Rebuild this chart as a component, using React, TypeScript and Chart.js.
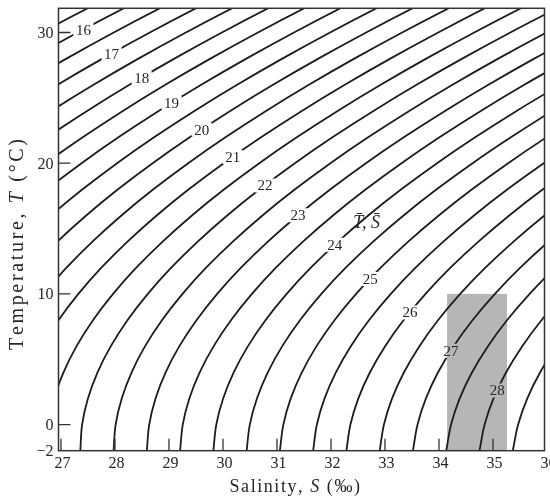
import { useEffect, useRef } from "react";
import { Chart, registerables } from "chart.js";

Chart.register(...registerables);

// Temperatures (°C) at which each σt contour's salinity is tabulated
const TEMPS = [-2, 0, 2, 4, 6, 8, 10, 12, 14, 16, 18, 20, 22, 24, 26, 28, 30, 32, 34];

// σt values of the drawn isopycnals (0.5 apart)
const SIGMA_LEVELS = [
  15.5, 16, 16.5, 17, 17.5, 18, 18.5, 19, 19.5, 20, 20.5, 21, 21.5, 22, 22.5, 23,
  23.5, 24, 24.5, 25, 25.5, 26, 26.5, 27, 27.5, 28, 28.5,
];

// σt of the first entry of each salinity row below (one row per temperature)
const FIRST_SIGMA = [
  20.5, 20.5, 20.5, 20.5, 20.5, 20, 20, 19.5, 19, 18.5, 18, 17.5, 17, 16.5, 16, 15.5, 15.5, 15.5, 15.5,
];

// Salinity (‰) of consecutive isopycnals at each temperature of TEMPS
const SALINITY = [
  [25.51, 26.126, 26.742, 27.358, 27.974, 28.59, 29.206, 29.822, 30.438, 31.054, 31.67, 32.286, 32.902, 33.518, 34.135, 34.751, 35.367],
  [25.528, 26.149, 26.77, 27.391, 28.012, 28.634, 29.255, 29.876, 30.497, 31.118, 31.739, 32.36, 32.981, 33.603, 34.224, 34.845, 35.466],
  [25.621, 26.247, 26.873, 27.499, 28.125, 28.751, 29.377, 30.003, 30.629, 31.255, 31.881, 32.507, 33.132, 33.758, 34.384, 35.01, 35.636],
  [25.786, 26.416, 27.047, 27.677, 28.308, 28.938, 29.569, 30.199, 30.83, 31.461, 32.091, 32.722, 33.352, 33.983, 34.613, 35.244, 35.874],
  [26.019, 26.654, 27.289, 27.923, 28.558, 29.193, 29.828, 30.463, 31.098, 31.733, 32.368, 33.003, 33.638, 34.272, 34.907, 35.542, 36.177],
  [25.678, 26.317, 26.956, 27.595, 28.234, 28.873, 29.512, 30.151, 30.79, 31.429, 32.068, 32.707, 33.346, 33.985, 34.624, 35.263, 35.902, 36.541],
  [26.036, 26.679, 27.322, 27.965, 28.608, 29.251, 29.893, 30.536, 31.179, 31.822, 32.465, 33.108, 33.751, 34.393, 35.036, 35.679, 36.322, 36.965],
  [25.809, 26.455, 27.102, 27.748, 28.394, 29.041, 29.687, 30.334, 30.98, 31.627, 32.273, 32.92, 33.566, 34.212, 34.859, 35.505, 36.152, 36.798],
  [25.633, 26.283, 26.933, 27.582, 28.232, 28.882, 29.532, 30.182, 30.831, 31.481, 32.131, 32.781, 33.43, 34.08, 34.73, 35.38, 36.03, 36.679],
  [25.508, 26.161, 26.814, 27.467, 28.12, 28.772, 29.425, 30.078, 30.731, 31.384, 32.037, 32.69, 33.343, 33.996, 34.649, 35.301, 35.954, 36.607],
  [25.433, 26.088, 26.744, 27.4, 28.056, 28.711, 29.367, 30.023, 30.679, 31.334, 31.99, 32.646, 33.302, 33.957, 34.613, 35.269, 35.925, 36.58],
  [25.406, 26.064, 26.722, 27.381, 28.039, 28.697, 29.356, 30.014, 30.672, 31.331, 31.989, 32.647, 33.306, 33.964, 34.622, 35.281, 35.939, 36.597],
  [25.427, 26.087, 26.748, 27.409, 28.07, 28.73, 29.391, 30.052, 30.712, 31.373, 32.034, 32.695, 33.355, 34.016, 34.677, 35.338, 35.998, 36.659],
  [25.494, 26.157, 26.82, 27.483, 28.146, 28.808, 29.471, 30.134, 30.797, 31.46, 32.123, 32.786, 33.449, 34.111, 34.774, 35.437, 36.1, 36.763],
  [25.609, 26.273, 26.938, 27.603, 28.268, 28.932, 29.597, 30.262, 30.926, 31.591, 32.256, 32.921, 33.585, 34.25, 34.915, 35.579, 36.244, 36.909],
  [25.769, 26.435, 27.101, 27.768, 28.434, 29.1, 29.767, 30.433, 31.099, 31.766, 32.432, 33.098, 33.764, 34.431, 35.097, 35.763, 36.43],
  [26.642, 27.31, 27.977, 28.645, 29.313, 29.98, 30.648, 31.315, 31.983, 32.651, 33.318, 33.986, 34.653, 35.321, 35.988, 36.656],
  [27.563, 28.232, 28.9, 29.569, 30.237, 30.906, 31.574, 32.243, 32.912, 33.58, 34.249, 34.917, 35.586, 36.254, 36.923],
  [28.53, 29.199, 29.868, 30.538, 31.207, 31.876, 32.545, 33.214, 33.883, 34.553, 35.222, 35.891, 36.56],
];

// Contour labels: σt value and the approximate (S, T) spot of the label,
// snapped onto its own isopycnal when drawn
const LABEL_SIGMAS = [16, 17, 18, 19, 20, 21, 22, 23, 24, 25, 26, 27, 28];
const LABEL_SALINITY = [27.43, 27.95, 28.52, 29.09, 29.67, 30.25, 30.84, 31.4, 32.1, 32.79, 33.56, 34.25, 35.13];
const LABEL_TEMPS = [30.11, 28.28, 26.36, 24.32, 22.16, 20.07, 17.95, 15.96, 13.61, 10.89, 8.25, 5.57, 2.51];

// Shaded range of mean T, S
const BOX_SALINITY = [34.15, 35.26];
const BOX_TEMP = [-2, 10];

// Mean T, S annotation position (S, T)
const MEAN_LABEL_POS = [32.66, 15.52];

// Axis ticks
const X_TICKS = [27, 28, 29, 30, 31, 32, 33, 34, 35, 36];
const Y_TICKS = [-2, 0, 10, 20, 30];

const SERIF = "'Liberation Serif', 'Times New Roman', Times, serif";
const INK = "#262626";
const LINE_INK = "#1c1c1c";
const BOX_FILL = "rgb(182,182,182)";

function contourPoints(sigma: number) {
  const pts: { x: number; y: number }[] = [];
  TEMPS.forEach((t, j) => {
    const k = Math.round((sigma - FIRST_SIGMA[j]) / 0.5);
    const row = SALINITY[j];
    if (k >= 0 && k < row.length) pts.push({ x: row[k], y: t });
  });
  return pts;
}

type Spot = { x: number; y: number; w: number; h: number; text: string };

// nearest point of a pixel polyline to (px, py)
function snap(pts: any[], px: number, py: number) {
  let best = { x: px, y: py, d: Infinity };
  for (let j = 0; j < pts.length - 1; j++) {
    const a = pts[j];
    const b = pts[j + 1];
    const dx = b.x - a.x;
    const dy = b.y - a.y;
    const len2 = dx * dx + dy * dy || 1;
    let t = ((px - a.x) * dx + (py - a.y) * dy) / len2;
    t = Math.max(0, Math.min(1, t));
    const qx = a.x + t * dx;
    const qy = a.y + t * dy;
    const d = (qx - px) ** 2 + (qy - py) ** 2;
    if (d < best.d) best = { x: qx, y: qy, d };
  }
  return best;
}

function labelSpots(chart: any): Spot[] {
  const { ctx, scales } = chart;
  const spots: Spot[] = [];
  ctx.save();
  ctx.font = `15px ${SERIF}`;
  LABEL_SIGMAS.forEach((sig, i) => {
    const di = SIGMA_LEVELS.indexOf(sig);
    const pts = chart.getDatasetMeta(di).data as any[];
    const px = scales.x.getPixelForValue(LABEL_SALINITY[i]);
    const py = scales.y.getPixelForValue(LABEL_TEMPS[i]);
    const p = snap(pts, px, py);
    const text = String(sig);
    const w = ctx.measureText(text).width + 5;
    spots.push({ x: p.x, y: p.y, w, h: 14, text });
  });
  ctx.restore();
  return spots;
}

// Draw text with evenly spread characters so it spans a given length
function drawSpread(
  ctx: CanvasRenderingContext2D,
  runs: { t: string; italic: boolean }[],
  size: number,
  start: number,
  length: number,
  baseline: number
) {
  const chars: { c: string; font: string; w: number }[] = [];
  runs.forEach((r) => {
    const font = `${r.italic ? "italic " : ""}${size}px ${SERIF}`;
    ctx.font = font;
    for (const c of Array.from(r.t)) chars.push({ c, font, w: ctx.measureText(c).width });
  });
  const natural = chars.reduce((s, c) => s + c.w, 0);
  const extra = chars.length > 1 ? (length - natural) / (chars.length - 1) : 0;
  let x = start;
  ctx.textAlign = "left";
  ctx.textBaseline = "alphabetic";
  chars.forEach((c) => {
    ctx.font = c.font;
    ctx.fillText(c.c, x, baseline);
    x += c.w + extra;
  });
}

const decor = {
  id: "tsDecor",
  beforeDatasetsDraw(chart: any) {
    const { ctx, scales } = chart;
    const { x, y } = scales;
    const x0 = x.getPixelForValue(BOX_SALINITY[0]);
    const x1 = x.getPixelForValue(BOX_SALINITY[1]);
    const y0 = y.getPixelForValue(BOX_TEMP[1]);
    const y1 = y.getPixelForValue(BOX_TEMP[0]);
    ctx.save();
    ctx.fillStyle = BOX_FILL;
    ctx.fillRect(x0, y0, x1 - x0, y1 - y0);
    ctx.restore();

    // leave gaps in the isopycnals where their labels go
    const spots = labelSpots(chart);
    chart.$tsSpots = spots;
    ctx.save();
    ctx.beginPath();
    ctx.rect(0, 0, chart.width, chart.height);
    spots.forEach((s) => ctx.rect(s.x - s.w / 2, s.y - s.h / 2, s.w, s.h));
    ctx.clip("evenodd");
  },
  afterDatasetsDraw(chart: any) {
    const { ctx } = chart;
    ctx.restore();
    const spots: Spot[] = chart.$tsSpots || [];
    ctx.save();
    ctx.fillStyle = INK;
    ctx.font = `15px ${SERIF}`;
    ctx.textAlign = "center";
    ctx.textBaseline = "alphabetic";
    spots.forEach((s) => ctx.fillText(s.text, s.x, s.y + 5));
    ctx.restore();
  },
  afterDraw(chart: any) {
    const { ctx, chartArea: a, scales } = chart;
    const { x, y } = scales;
    ctx.save();

    // frame
    ctx.strokeStyle = "#333";
    ctx.lineWidth = 1.5;
    ctx.strokeRect(a.left, a.top, a.right - a.left, a.bottom - a.top);

    // inward tick marks
    ctx.lineWidth = 1.3;
    ctx.beginPath();
    X_TICKS.forEach((v) => {
      const px = x.getPixelForValue(v);
      if (px > a.left + 1 && px < a.right - 1) {
        ctx.moveTo(px, a.bottom);
        ctx.lineTo(px, a.bottom - 12);
      }
    });
    Y_TICKS.forEach((v) => {
      const py = y.getPixelForValue(v);
      if (py < a.bottom - 1 && py > a.top + 1) {
        ctx.moveTo(a.left, py);
        ctx.lineTo(a.left + 12, py);
      }
    });
    ctx.stroke();

    // tick labels
    ctx.fillStyle = INK;
    ctx.font = `16px ${SERIF}`;
    ctx.textBaseline = "alphabetic";
    ctx.textAlign = "center";
    X_TICKS.forEach((v) => {
      ctx.fillText(String(v), x.getPixelForValue(v) + 1.5, a.bottom + 17.3);
    });
    ctx.textAlign = "right";
    Y_TICKS.forEach((v) => {
      const txt = v < 0 ? "\u2212" + Math.abs(v) : String(v);
      ctx.fillText(txt, a.left - 5, y.getPixelForValue(v) + 5.5);
    });

    // mean T, S annotation
    ctx.font = `italic 18px ${SERIF}`;
    ctx.textAlign = "center";
    ctx.fillText(
      "T\u0304, S\u0304",
      x.getPixelForValue(MEAN_LABEL_POS[0]),
      y.getPixelForValue(MEAN_LABEL_POS[1]) + 6
    );

    // axis titles
    drawSpread(
      ctx,
      [
        { t: "Salinity, ", italic: false },
        { t: "S", italic: true },
        { t: " (\u2030)", italic: false },
      ],
      18,
      229.5,
      130.5,
      492
    );
    ctx.save();
    ctx.translate(22.7, 350);
    ctx.rotate(-Math.PI / 2);
    drawSpread(
      ctx,
      [
        { t: "Temperature, ", italic: false },
        { t: "T", italic: true },
        { t: " (\u00b0C)", italic: false },
      ],
      20,
      0,
      211,
      0
    );
    ctx.restore();

    ctx.restore();
  },
};

export default function App() {
  const ref = useRef<HTMLCanvasElement>(null);

  useEffect(() => {
    const canvas = ref.current;
    if (!canvas) return;
    const datasets = SIGMA_LEVELS.map((sig) => ({
      label: `σt ${sig}`,
      data: contourPoints(sig),
      showLine: true,
      borderColor: LINE_INK,
      borderWidth: 1.8,
      pointRadius: 0,
      pointHoverRadius: 0,
      tension: 0.35,
      fill: false,
      clip: 0,
    }));

    const chart = new Chart(canvas, {
      type: "scatter",
      data: { datasets },
      options: {
        responsive: false,
        animation: false,
        devicePixelRatio: 1,
        events: [],
        layout: { padding: { left: 0, right: 5.5, top: 8.3, bottom: 0 } },
        plugins: {
          legend: { display: false },
          tooltip: { enabled: false },
          title: { display: false },
        },
        scales: {
          x: {
            type: "linear",
            min: 26.954,
            max: 35.954,
            grid: { display: false },
            border: { display: false },
            ticks: { display: false },
            afterFit: (s: any) => {
              s.height = 48.3;
            },
          },
          y: {
            type: "linear",
            min: -2,
            max: 31.85,
            grid: { display: false },
            border: { display: false },
            ticks: { display: false },
            afterFit: (s: any) => {
              s.width = 58.5;
            },
          },
        },
      },
      plugins: [decor],
    } as any);

    return () => chart.destroy();
  }, []);

  return (
    <div
      style={{
        position: "fixed",
        left: 0,
        top: 0,
        width: 550,
        height: 499,
        background: "#fff",
      }}
    >
      <canvas ref={ref} width={550} height={499} style={{ display: "block" }} />
    </div>
  );
}
